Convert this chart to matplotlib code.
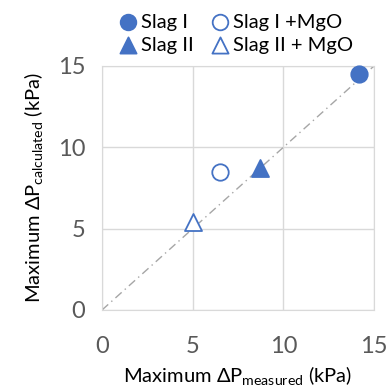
import matplotlib
matplotlib.use("Agg")
import matplotlib.pyplot as plt

plt.rcParams['font.family'] = ['Lato', 'DejaVu Sans']
plt.rcParams['mathtext.default'] = 'regular'

series = ["Slag I", "Slag I +MgO", "Slag II", "Slag II + MgO"]
measured = [14.2, 6.5, 8.7, 5.0]
calculated = [14.5, 8.5, 8.7, 5.4]
markers = ["o", "o", "^", "^"]
filled = [True, False, True, False]
ticks = [0, 5, 10, 15]

blue = "#4472C4"
grey_txt = "#595959"
grid_c = "#D9D9D9"

W, H = 390, 389
fig = plt.figure(figsize=(3.9, 3.89), dpi=100)
L, R, T, B = 102, 374, 66, 310
ax = fig.add_axes([L / W, 1 - B / H, (R - L) / W, (B - T) / H])

ax.plot([0, 15], [0, 15], linestyle=(0, (6, 3, 1, 3)), color="#A6A6A6", lw=1.0, zorder=2)

handles = {}
for name, x, y, m, f in zip(series, measured, calculated, markers, filled):
    h = ax.scatter([x], [y], marker=m, s=140 if m == "o" else 150,
                   facecolors=blue if f else "white", edgecolors=blue,
                   linewidths=1.3, zorder=3, label=name, clip_on=False)
    handles[name] = h

ax.set_xlim(0, 15)
ax.set_ylim(0, 15)
ax.set_xticks(ticks)
ax.set_yticks(ticks)
ax.grid(True, color=grid_c, lw=1.0)
ax.set_axisbelow(True)
for s in ax.spines.values():
    s.set_color(grid_c)
ax.tick_params(length=0, labelsize=17, labelcolor=grey_txt)
ax.tick_params(axis="x", pad=19)
ax.tick_params(axis="y", pad=12)

ax.set_xlabel(r"Maximum ΔP$_{measured}$ (kPa)", fontsize=14.5, color="black", labelpad=5)
ax.set_ylabel(r"Maximum ΔP$_{calculated}$ (kPa)", fontsize=14.5, color="black", labelpad=9)

order = ["Slag I", "Slag II", "Slag I +MgO", "Slag II + MgO"]
fig.legend([handles[k] for k in order], order, ncol=2, frameon=False,
           loc="upper left", bbox_to_anchor=(100 / W, 1.012), fontsize=14.5,
           handletextpad=0.15, columnspacing=0.8, labelspacing=0.3,
           handlelength=1.0, markerscale=0.95)

fig.savefig("out.png", dpi=100)
